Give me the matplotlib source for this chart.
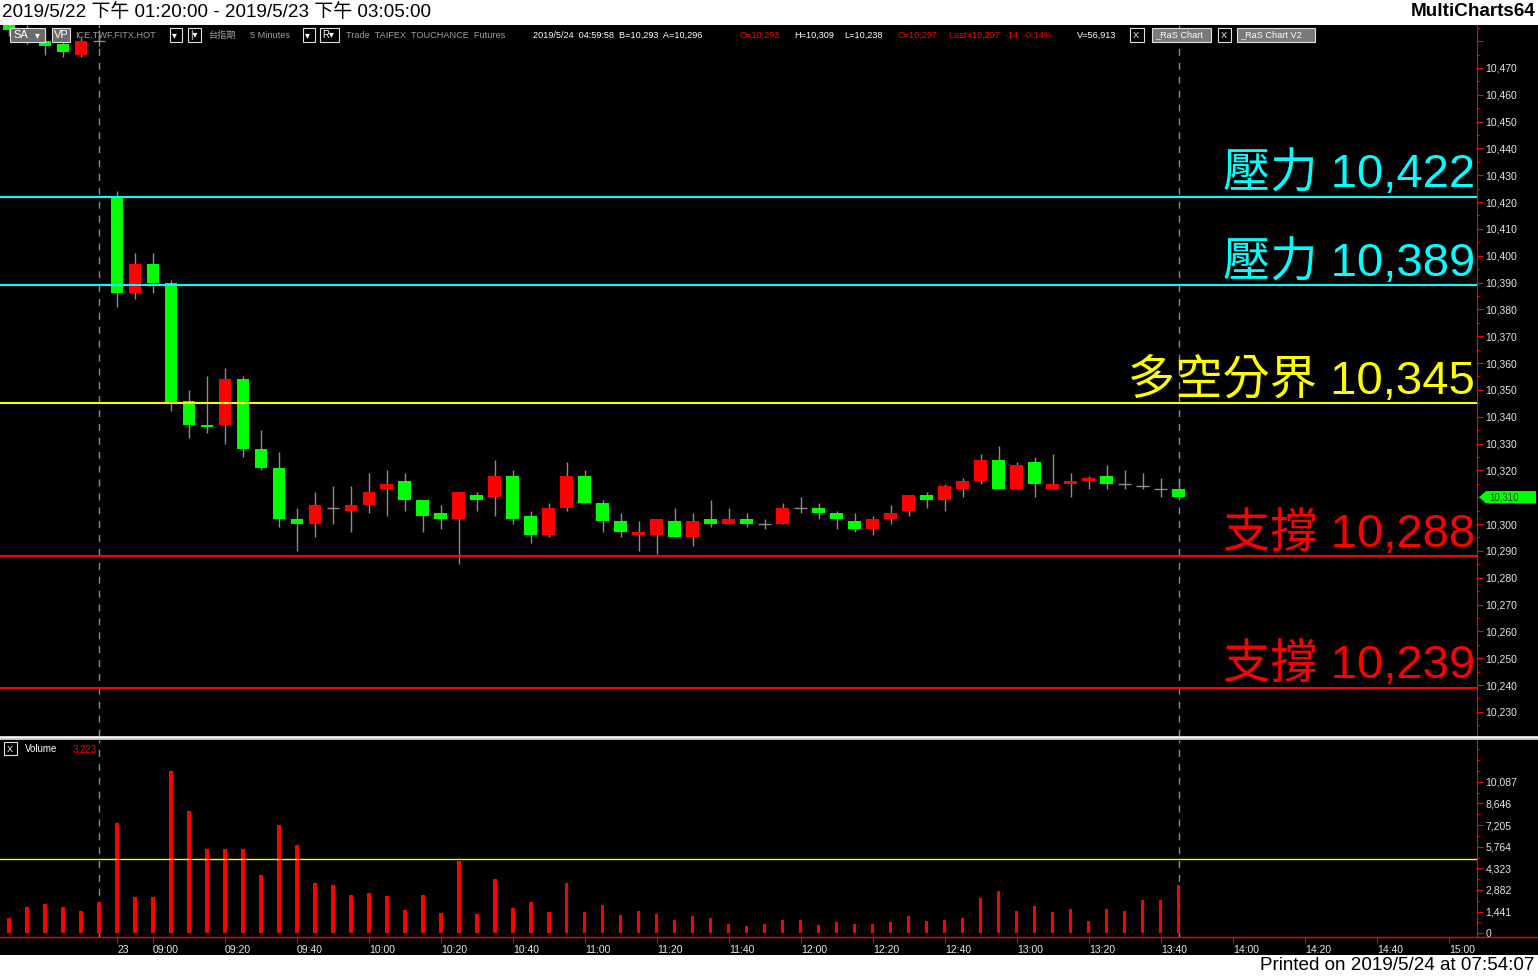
import matplotlib
matplotlib.use('Agg')
import matplotlib.pyplot as plt
import matplotlib.transforms as mtransforms
from matplotlib.lines import Line2D
from matplotlib.patches import Polygon, Rectangle
from matplotlib.ticker import FuncFormatter, MultipleLocator
import numpy as np
import pandas as pd

W, H = 1538, 977

# 5-minute bars: the last 6 bars of the night session, then the 5/23 day session
opens = [10488, 10484, 10480, 10479, 10475, 10480,
         10422, 10386, 10397, 10390, 10346, 10337, 10337, 10354, 10328, 10321,
         10302, 10300, 10306, 10305, 10307, 10313, 10316, 10309, 10304, 10302,
         10311, 10310, 10318, 10303, 10296, 10306, 10318, 10308, 10301, 10296,
         10296, 10301, 10295, 10302, 10300, 10302, 10300, 10300, 10306, 10306,
         10304, 10301, 10298, 10302, 10305, 10311, 10309, 10313, 10316, 10324,
         10313, 10323, 10313, 10315, 10316, 10318, 10315, 10314, 10313, 10313]
highs = [10490, 10486, 10483, 10480, 10481, 10484,
         10424, 10401, 10401, 10391, 10350, 10355, 10358, 10355, 10335, 10327,
         10306, 10312, 10314, 10314, 10319, 10320, 10319, 10309, 10307, 10312,
         10312, 10324, 10320, 10305, 10308, 10323, 10320, 10309, 10304, 10301,
         10302, 10306, 10304, 10309, 10306, 10304, 10302, 10308, 10310, 10308,
         10305, 10304, 10303, 10307, 10311, 10312, 10315, 10317, 10326, 10329,
         10323, 10325, 10326, 10319, 10318, 10322, 10320, 10319, 10317, 10317]
lows = [10482, 10479, 10475, 10474, 10474, 10478,
        10381, 10384, 10386, 10342, 10332, 10334, 10330, 10325, 10320, 10299,
        10290, 10295, 10300, 10297, 10304, 10303, 10305, 10297, 10298, 10285,
        10305, 10303, 10300, 10293, 10295, 10305, 10308, 10297, 10295, 10290,
        10289, 10295, 10292, 10299, 10300, 10299, 10298, 10300, 10304, 10302,
        10298, 10297, 10296, 10300, 10303, 10306, 10305, 10310, 10315, 10313,
        10313, 10310, 10313, 10310, 10313, 10313, 10313, 10313, 10310, 10310]
closes = [10484, 10481, 10478, 10476, 10480, 10480,
          10386, 10397, 10390, 10345, 10337, 10336, 10354, 10328, 10321, 10302,
          10300, 10307, 10306, 10307, 10312, 10315, 10309, 10303, 10302, 10312,
          10309, 10318, 10302, 10296, 10306, 10318, 10308, 10301, 10297, 10297,
          10302, 10295, 10301, 10300, 10302, 10300, 10300, 10306, 10306, 10304,
          10302, 10298, 10302, 10304, 10311, 10309, 10314, 10316, 10324, 10313,
          10322, 10315, 10315, 10316, 10317, 10315, 10315, 10314, 10313, 10310]
volumes = [998, 1730, 1930, 1730, 1464, 2063,
           7319, 2395, 2395, 10779, 8118, 5589, 5589, 5589, 3859, 7186,
           5856, 3327, 3194, 2529, 2662, 2462, 1530, 2529, 1331, 4791,
           1264, 3593, 1664, 2063, 1397, 3327, 1397, 1863, 1198, 1464,
           1264, 865, 1131, 998, 599, 466, 599, 865, 865, 532,
           732, 599, 599, 732, 1131, 798, 865, 998, 2329, 2795,
           1464, 1797, 1397, 1597, 798, 1597, 1464, 2196, 2196, 3223]

night_slots = pd.date_range('2019-05-23 04:35', periods=6, freq='5min')
day_slots = pd.date_range('2019-05-23 08:50', '2019-05-23 15:00', freq='5min')
slots = night_slots.append(day_slots)

levels = [10422, 10389, 10345, 10288, 10239]
level_names = ['壓力', '壓力', '多空分界', '支撐', '支撐']
level_colors = ['#00ffff', '#00ffff', '#ffff00', '#ff0000', '#ff0000']

vol_ticks = [0, 1441, 2882, 4323, 5764, 7205, 8646, 10087]
vol_avg = 4960
last_price = 10310

plt.rcParams['font.family'] = ['Liberation Sans', 'Noto Sans CJK TC', 'DejaVu Sans']


def fx(x):
    return x / W


def fy(y):
    return 1 - y / H


def price_fmt(v, pos):
    # the top label sits under the header row, the last price tag hides its own label
    if v > 10475 or v == last_price:
        return ''
    return f'{v:,.0f}'


fig = plt.figure(figsize=(W / 100, H / 100), dpi=100, facecolor='white')
fig.add_artist(Rectangle((0, fy(955)), 1, fy(25) - fy(955), transform=fig.transFigure,
                         fc='black', ec='none', zorder=-1))

ax = fig.add_axes([0, fy(736), fx(1477), fy(25) - fy(736)])
axv = fig.add_axes([0, fy(937), fx(1477), fy(740) - fy(937)])

for a in (ax, axv):
    a.set_facecolor('black')
    for s in a.spines.values():
        s.set_visible(False)
    a.spines['right'].set_visible(True)
    a.spines['right'].set_color('#ff0000')
    a.yaxis.tick_right()
    a.tick_params(axis='y', which='both', colors='#ff0000', labelcolor='#e6e6e6',
                  labelsize=7.5, direction='out', pad=2)
    a.tick_params(axis='y', which='minor', length=2)
    a.tick_params(axis='y', which='major', length=4)
    a.set_xlim(-0.5, 81.56)
    for xi in (5, 65):
        a.axvline(xi, color='#8a8a8a', lw=1, ls=(0, (5, 5)), zorder=1)

# candles
x = np.arange(len(opens))
o, h, l, c = (np.array(v) for v in (opens, highs, lows, closes))
ax.vlines(x, l, h, color='#8c8c8c', lw=1, zorder=2)
up, down, flat = c > o, c < o, c == o
ax.bar(x[up], (c - o)[up], bottom=o[up], width=0.72, color='#ff0000', lw=0, zorder=3)
ax.bar(x[down], (o - c)[down], bottom=c[down], width=0.72, color='#00ff00', lw=0, zorder=3)
ax.hlines(c[flat], x[flat] - 0.36, x[flat] + 0.36, color='#8c8c8c', lw=1, zorder=3)

ax.set_ylim(10221, 10486)
ax.yaxis.set_major_locator(MultipleLocator(10))
ax.yaxis.set_minor_locator(MultipleLocator(5))
ax.yaxis.set_major_formatter(FuncFormatter(price_fmt))
ax.set_xticks([])

for lv, name, col in zip(levels, level_names, level_colors):
    ax.axhline(lv, color=col, lw=1.5, zorder=4)
    ax.annotate(f'{name} {lv:,}', xy=(81.45, lv), xytext=(0, 7), textcoords='offset points',
                ha='right', va='baseline', color=col, fontsize=34, zorder=5)

# last price tag
tf = mtransforms.blended_transform_factory(ax.transAxes, ax.transData)
dy = 2.3
ax.add_patch(Polygon([(1479 / 1477, last_price), (1486 / 1477, last_price + dy),
                      (1536 / 1477, last_price + dy), (1536 / 1477, last_price - dy),
                      (1486 / 1477, last_price - dy)], closed=True, transform=tf,
                     fc='#00ff00', ec='none', clip_on=False, zorder=6))
ax.text(1489 / 1477, last_price, f'{last_price:,}', transform=tf, color='#004400',
        fontsize=7, va='center', ha='left', clip_on=False, zorder=7)

# volume
axv.bar(x, volumes, width=0.17, color='#ff0000', lw=0, zorder=2)
axv.axhline(vol_avg, color='#ffff00', lw=1, zorder=3)
axv.set_ylim(-246, 12862)
axv.set_yticks(vol_ticks)
axv.yaxis.set_minor_locator(MultipleLocator(720.5))
axv.set_yticklabels([f'{v:,}' for v in vol_ticks])

tick_idx = [6] + [i for i, t in enumerate(slots) if i >= 8 and t.minute % 20 == 0]
tick_lbl = ['23'] + [slots[i].strftime('%H:%M') for i in tick_idx[1:]]
axv.set_xticks(tick_idx)
axv.set_xticklabels(tick_lbl)
axv.tick_params(axis='x', colors='#ff0000', labelcolor='#e6e6e6', labelsize=7.5,
                length=4, direction='out', pad=1.5)
for lbl in axv.get_xticklabels():
    lbl.set_ha('left')

# frame lines
fig.add_artist(Line2D([0, 1], [fy(937), fy(937)], transform=fig.transFigure,
                      color='#ff0000', lw=1, zorder=4))
fig.add_artist(Rectangle((0, fy(739.5)), 1, fy(735.5) - fy(739.5), transform=fig.transFigure,
                         fc='#bdbdbd', ec='none', zorder=4))
fig.add_artist(Line2D([0, 1], [fy(736.5), fy(736.5)], transform=fig.transFigure,
                      color='white', lw=1, zorder=5))


def box(x0, y0, x1, y1, fc='black', ec='#e0e0e0'):
    fig.add_artist(Rectangle((fx(x0), fy(y1)), fx(x1) - fx(x0), fy(y0) - fy(y1),
                             transform=fig.transFigure, fc=fc, ec=ec, lw=0.8, zorder=5))


def label(xp, yp, s, color, size=7.2, **kw):
    fig.text(fx(xp), fy(yp), s, color=color, fontsize=size, va='center', ha='left',
             zorder=6, **kw)


# header row
hy = 35
box(10, 28, 45, 42, fc='#6a6a6a')
label(13, hy, 'SA', 'white', 8)
label(35, hy, '▾', 'white', 7)
box(52, 28, 70, 42, fc='#6a6a6a')
label(54, hy, 'VP', 'white', 8)
label(75, hy, 'ICE.TWF.FITX.HOT', '#a0a0a0', 6.6)
box(170, 28, 182, 42)
label(172, hy, '▾', 'white', 7)
box(188, 28, 201, 42)
label(190, hy, '|▾', 'white', 7)
label(208, hy, '台指期', '#a0a0a0', 6.6)
label(250, hy, '5 Minutes', '#a0a0a0', 6.6)
box(303, 28, 315, 42)
label(305, hy, '▾', 'white', 7)
box(320, 28, 339, 42)
label(322, hy, 'R▾', 'white', 7)
label(346, hy, 'Trade  TAIFEX  TOUCHANCE  Futures', '#a0a0a0', 6.6)
label(533, hy, '2019/5/24  04:59:58  B=10,293  A=10,296', 'white', 6.6)
label(740, hy, 'O=10,293', '#ff0000', 6.6)
label(794, hy, 'H=10,309', 'white', 6.6)
label(844, hy, 'L=10,238', 'white', 6.6)
label(897, hy, 'C=10,297', '#ff0000', 6.6)
label(949, hy, 'Last=10,297  -14  -0.14%', '#ff0000', 6.6)
label(1077, hy, 'V=56,913', 'white', 6.6)
box(1130, 28, 1144, 42)
label(1133, hy, 'X', 'white', 6.6)
box(1152, 28, 1211, 42, fc='#7a7a7a')
label(1155, hy, '_RaS Chart', 'white', 6.6)
box(1218, 28, 1231, 42)
label(1221, hy, 'X', 'white', 6.6)
box(1237, 28, 1315, 42, fc='#7a7a7a')
label(1240, hy, '_RaS Chart V2', 'white', 6.6)

# volume header
box(4, 742, 17, 755)
label(7, 749, 'X', 'white', 6.6)
label(25, 749, 'Volume', 'white', 7)
label(73, 749, f'{volumes[-1]:,}', '#ff0000', 7)

# window title and footer
fig.text(fx(2), fy(12), '2019/5/22 下午 01:20:00 - 2019/5/23 下午 03:05:00',
         color='black', fontsize=13.6, va='center', ha='left')
fig.text(fx(1535), fy(12), 'MultiCharts64', color='black', fontsize=13.6,
         fontweight='bold', va='center', ha='right')
fig.text(fx(1535), fy(966), 'Printed on 2019/5/24 at 07:54:07', color='black',
         fontsize=13.6, va='center', ha='right')

fig.savefig('out.png', dpi=100, facecolor='white')
